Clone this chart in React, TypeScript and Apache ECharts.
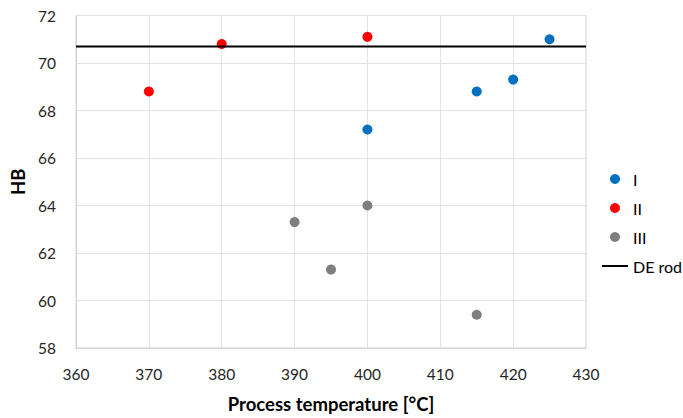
import React, { useEffect, useRef } from "react";
import * as echarts from "echarts";

const xTicks = [360, 370, 380, 390, 400, 410, 420, 430];
const yTicks = [58, 60, 62, 64, 66, 68, 70, 72];
const seriesI: [number, number][] = [[400, 67.2], [415, 68.8], [420, 69.3], [425, 71.0]];
const seriesII: [number, number][] = [[370, 68.8], [380, 70.8], [400, 71.1]];
const seriesIII: [number, number][] = [[390, 63.3], [395, 61.3], [400, 64.0], [415, 59.4]];
const deRod = 70.7;
const names = ["I", "II", "III", "DE rod"];

export default function App() {
  const ref = useRef<HTMLDivElement>(null);
  useEffect(() => {
    const chart = echarts.init(ref.current!, null, { renderer: "svg" });
    const font = "Lato, 'Open Sans', sans-serif";
    const xMin = xTicks[0], xMax = xTicks[xTicks.length - 1];
    chart.setOption({
      animation: false,
      textStyle: { fontFamily: font },
      grid: { left: 76, right: 97, top: 15.5, bottom: 69, show: true, borderColor: "#d4d4d4", borderWidth: 1 },
      xAxis: {
        type: "value", min: xMin, max: xMax, interval: 10,
        name: "Process temperature [°C]", nameLocation: "middle", nameGap: 46,
        nameTextStyle: { fontSize: 18.5, fontWeight: "bold", color: "#000", fontFamily: font },
        axisLine: { show: true, lineStyle: { color: "#d4d4d4" } },
        axisTick: { show: false },
        axisLabel: { fontSize: 15.5, color: "#262626", margin: 18, fontFamily: font },
        splitLine: { show: true, lineStyle: { color: "#e3e3e3" } },
      },
      yAxis: {
        type: "value", min: yTicks[0], max: yTicks[yTicks.length - 1], interval: 2,
        name: "HB", nameLocation: "middle", nameGap: 47,
        nameTextStyle: { fontSize: 18.5, fontWeight: "bold", color: "#000", fontFamily: font },
        axisLine: { show: true, lineStyle: { color: "#d4d4d4" } },
        axisTick: { show: false },
        axisLabel: { fontSize: 15.5, color: "#262626", margin: 20, fontFamily: font },
        splitLine: { show: true, lineStyle: { color: "#e3e3e3" } },
      },
      legend: {
        orient: "vertical", left: 597, top: 166, width: 86, itemWidth: 26, itemHeight: 10, itemGap: 13,
        textStyle: { fontSize: 16, color: "#000", lineHeight: 16, fontFamily: font },
        data: [
          { name: names[0], icon: "circle" },
          { name: names[1], icon: "circle" },
          { name: names[2], icon: "circle" },
          { name: names[3], icon: "path://M0,0H26V2H0Z" },
        ],
      },
      series: [
        { name: names[0], type: "scatter", data: seriesI, symbolSize: 10, itemStyle: { color: "#0070C0", opacity: 1 } },
        { name: names[1], type: "scatter", data: seriesII, symbolSize: 10, itemStyle: { color: "#FF0000", opacity: 1 } },
        { name: names[2], type: "scatter", data: seriesIII, symbolSize: 10, itemStyle: { color: "#7F7F7F", opacity: 1 } },
        {
          name: names[3], type: "line", symbol: "none", showSymbol: false,
          data: [[xMin, deRod], [xMax, deRod]],
          lineStyle: { color: "#000", width: 2 }, itemStyle: { color: "#000" },
        },
      ],
    });
    return () => chart.dispose();
  }, []);
  return <div ref={ref} style={{ width: 683, height: 418, position: "absolute", left: 0, top: 0 }} />;
}
